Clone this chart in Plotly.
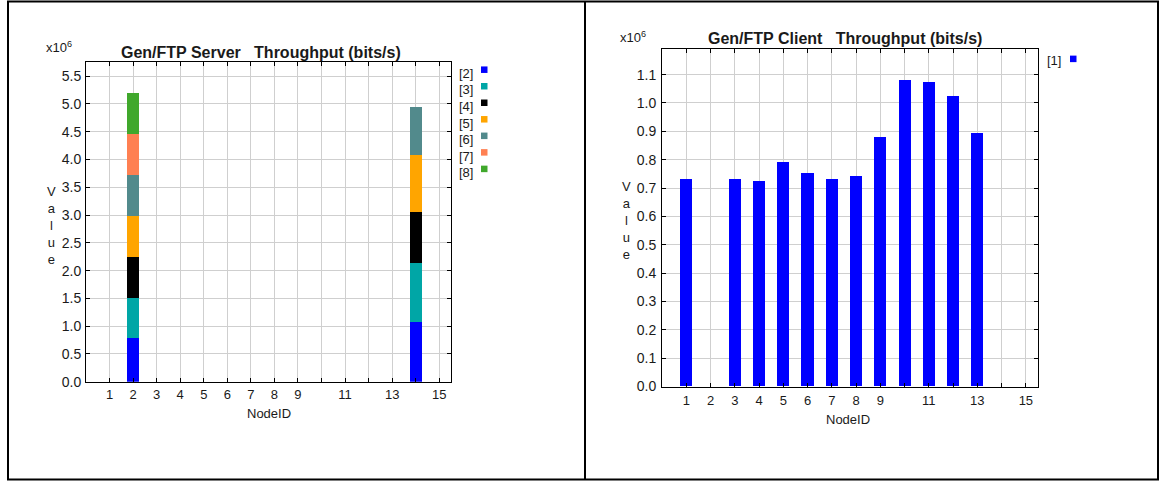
import plotly.graph_objects as go

# ---------------- data ----------------
# Server chart (values in units of 10^6 bits/s), stacked by series
server_nodes = [2, 14]
server_series = ["[2]", "[3]", "[4]", "[5]", "[6]", "[7]", "[8]"]
srv_2 = [0.79, 1.08]
srv_3 = [0.72, 1.06]
srv_4 = [0.73, 0.905]
srv_5 = [0.74, 1.025]
srv_6 = [0.74, 0.87]
srv_7 = [0.74, 0.0]
srv_8 = [0.73, 0.0]
server_values = [srv_2, srv_3, srv_4, srv_5, srv_6, srv_7, srv_8]
server_colors = ["#0000ff", "#00a6a6", "#000000", "#ffa500", "#528a8c", "#ff8052", "#40a82c"]

# Client chart (values in units of 10^6 bits/s)
client_nodes = [1, 2, 3, 4, 5, 6, 7, 8, 9, 10, 11, 12, 13, 14, 15]
client_1 = [0.73, 0.0, 0.73, 0.725, 0.793, 0.753, 0.731, 0.743, 0.881,
            1.079, 1.074, 1.023, 0.895, 0.0, 0.0]
client_series = ["[1]"]
client_colors = ["#0000ff"]

x_tickvals = [1, 2, 3, 4, 5, 6, 7, 8, 9, 11, 13, 15]
x_ticktext = ["1", "2", "3", "4", "5", "6", "7", "8", "9", "11", "13", "15"]
srv_yticks = [0.0, 0.5, 1.0, 1.5, 2.0, 2.5, 3.0, 3.5, 4.0, 4.5, 5.0, 5.5]
cli_yticks = [0.0, 0.1, 0.2, 0.3, 0.4, 0.5, 0.6, 0.7, 0.8, 0.9, 1.0, 1.1]

W = 1161
H_REF = 481          # reference picture height (layout coordinates below)
H = 490              # figure height (rendered output appears vertically compressed)
FONT = "Liberation Sans, Arial, Helvetica, sans-serif"
GRID = "#cfcfcf"


def px(x):
    return x / W


def py(y):
    return (H_REF - y) / H_REF


fig = go.Figure()

for name, vals, col in zip(server_series, server_values, server_colors):
    fig.add_trace(go.Bar(x=server_nodes, y=vals, name=name, width=0.5,
                         marker=dict(color=col, line=dict(width=0)),
                         xaxis="x", yaxis="y", showlegend=False))

fig.add_trace(go.Bar(x=client_nodes, y=client_1, name="[1]", width=0.5,
                     marker=dict(color=client_colors[0], line=dict(width=0)),
                     xaxis="x2", yaxis="y2", showlegend=False))

axis_common = dict(showline=True, linecolor="black", linewidth=1, mirror="ticks",
                   ticks="inside", ticklen=4, tickcolor="black",
                   showgrid=True, gridcolor=GRID, gridwidth=1, zeroline=False)
x_font = dict(family=FONT, size=13, color="#1a1a1a")
y_font = dict(family=FONT, size=14, color="#1a1a1a")
x_minor = dict(dtick=1, tick0=0, showgrid=True, gridcolor=GRID, gridwidth=1,
               ticks="inside", ticklen=4, tickcolor="black")

fig.update_layout(
    width=W, height=H, autosize=False,
    margin=dict(l=0, r=0, t=0, b=0),
    paper_bgcolor="white", plot_bgcolor="white",
    barmode="stack", bargap=0,
    font=dict(family=FONT, size=13, color="#1a1a1a"),
    xaxis=dict(domain=[px(86), px(451)], range=[0, 15.5], tickvals=x_tickvals,
               ticktext=x_ticktext, anchor="y", ticklabelstandoff=1,
               tickfont=x_font, minor=x_minor, **axis_common),
    yaxis=dict(domain=[py(381), py(62)], range=[0, 5.75], tickvals=srv_yticks,
               ticktext=["%.1f" % v for v in srv_yticks], anchor="x",
               ticklabelstandoff=1, tickfont=y_font, **axis_common),
    xaxis2=dict(domain=[px(662), px(1038)], range=[0, 15.5], tickvals=x_tickvals,
                ticktext=x_ticktext, anchor="y2", ticklabelstandoff=2,
                tickfont=x_font, minor=x_minor, **axis_common),
    yaxis2=dict(domain=[py(385.7), py(49)], range=[0, 1.19], tickvals=cli_yticks,
                ticktext=["%.1f" % v for v in cli_yticks], anchor="x2",
                ticklabelstandoff=2, tickfont=y_font, **axis_common),
)

ann = []
shapes = []


def text(x, y, s, size=13, xanchor="center"):
    ann.append(dict(x=px(x), y=py(y), xref="paper", yref="paper", text=s,
                    showarrow=False, xanchor=xanchor, yanchor="middle",
                    font=dict(family=FONT, size=size, color="#1a1a1a")))


NB = "\u00a0"
# Titles
text(261, 52, "<b>Gen/FTP Server" + NB * 3 + "Throughput (bits/s)</b>", size=16)
text(845, 38, "<b>Gen/FTP Client" + NB * 3 + "Throughput (bits/s)</b>", size=16)
# exponent labels
text(44, 47, "x10<sup>6</sup>", size=13, xanchor="left")
text(618, 37, "x10<sup>6</sup>", size=13, xanchor="left")
# y titles (stacked letters)
text(51, 225, "V<br>a<br>l<br>u<br>e", size=13)
text(626, 220, "V<br>a<br>l<br>u<br>e", size=13)
# x titles
text(269, 413, "NodeID", size=13)
text(848, 419, "NodeID", size=13)

# Custom legends: text then coloured square
for i, (name, col) in enumerate(zip(server_series, server_colors)):
    yy = 73.3 + i * 16.5
    text(475, yy, name, size=13, xanchor="right")
    shapes.append(dict(type="rect", xref="paper", yref="paper",
                       x0=px(481), x1=px(487.5), y0=py(yy - 0.5), y1=py(yy - 7),
                       fillcolor=col, line=dict(width=0)))
for i, (name, col) in enumerate(zip(client_series, client_colors)):
    yy = 60
    text(1063, yy, name, size=13, xanchor="right")
    shapes.append(dict(type="rect", xref="paper", yref="paper",
                       x0=px(1070), x1=px(1076.5), y0=py(yy + 2), y1=py(yy - 4.5),
                       fillcolor=col, line=dict(width=0)))

# outer frame and divider
shapes.append(dict(type="rect", xref="paper", yref="paper",
                   x0=px(8), x1=px(1158), y0=py(478.5), y1=py(1.5),
                   line=dict(color="black", width=2), fillcolor="rgba(0,0,0,0)"))
shapes.append(dict(type="line", xref="paper", yref="paper",
                   x0=px(585), x1=px(585), y0=py(478.5), y1=py(1.5),
                   line=dict(color="black", width=2)))

fig.update_layout(annotations=ann, shapes=shapes)

fig.write_html("out.html")
